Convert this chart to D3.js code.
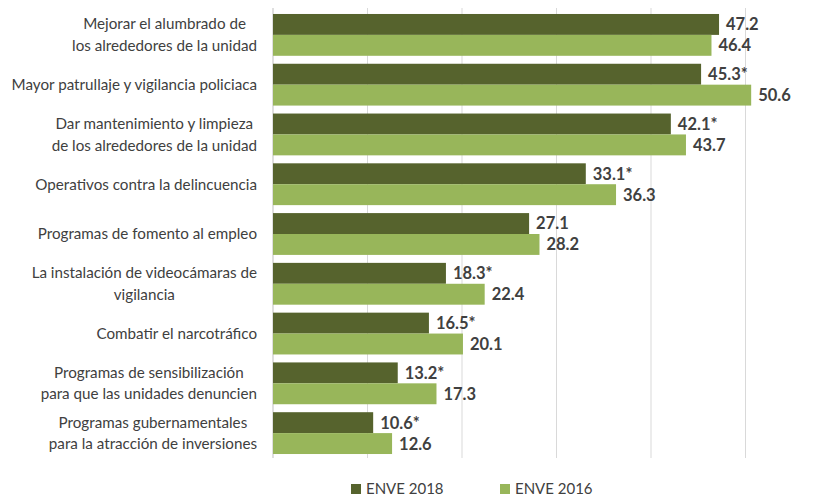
<!DOCTYPE html>
<html>
<head>
<meta charset="utf-8">
<script src="https://cdn.jsdelivr.net/npm/d3@7"></script>
<style>
  body { margin: 0; background: #fff; }
  text { font-family: Lato, "Noto Sans", sans-serif; fill: #404040; }
</style>
</head>
<body>
<div id="chart"></div>
<script>
const categories = [
  ["Mejorar el alumbrado de", "los alrededores de la unidad"],
  ["Mayor patrullaje y vigilancia policiaca"],
  ["Dar mantenimiento y limpieza", "de los alrededores de la unidad"],
  ["Operativos contra la delincuencia"],
  ["Programas de fomento al empleo"],
  ["La instalación de videocámaras de", "vigilancia"],
  ["Combatir el narcotráfico"],
  ["Programas de sensibilización", "para que las unidades denuncien"],
  ["Programas gubernamentales", "para la atracción de inversiones"]
]
const enve2018 = [47.2, 45.3, 42.1, 33.1, 27.1, 18.3, 16.5, 13.2, 10.6]
const enve2016 = [46.4, 50.6, 43.7, 36.3, 28.2, 22.4, 20.1, 17.3, 12.6]
const signif2018 = [false, true, true, true, false, true, true, true, true]
const seriesNames = ["ENVE 2018", "ENVE 2016"]
const ticks = [0, 10, 20, 30, 40, 50]

const width = 828, height = 497
const colors = ["#56632d", "#98b65a"]

let svg = d3.select("#chart").append("svg")
  .attr("width", width)
  .attr("height", height)

let x = d3.scaleLinear().domain([0, 50]).range([273, 745.5])
let y = d3.scaleBand()
  .domain(d3.range(categories.length))
  .range([10, 458])
  .paddingInner(0.16)
  .paddingOuter(0.08)
let sub = d3.scaleBand().domain([0, 1]).range([0, y.bandwidth()])

// vertical gridlines
svg.selectAll(".grid")
  .data(ticks)
  .enter()
  .append("line")
    .attr("x1", d => x(d)).attr("x2", d => x(d))
    .attr("y1", 8).attr("y2", 458)
    .attr("stroke", d => d === 0 ? "#bfbfbf" : "#d9d9d9")
    .attr("stroke-width", 1)

let rows = categories.map((c, i) => ({
  i: i,
  vals: [
    { v: enve2018[i], s: 0, label: enve2018[i].toFixed(1) + (signif2018[i] ? "*" : "") },
    { v: enve2016[i], s: 1, label: enve2016[i].toFixed(1) }
  ]
}))

let groups = svg.selectAll(".grp")
  .data(rows)
  .enter()
  .append("g")
    .attr("transform", d => "translate(0," + y(d.i) + ")")

groups.selectAll("rect")
  .data(d => d.vals)
  .enter()
  .append("rect")
    .attr("x", x(0))
    .attr("y", d => sub(d.s))
    .attr("width", d => x(d.v) - x(0))
    .attr("height", sub.bandwidth())
    .attr("fill", d => colors[d.s])

groups.selectAll(".val")
  .data(d => d.vals)
  .enter()
  .append("text")
    .attr("x", d => x(d.v) + 7)
    .attr("y", d => sub(d.s) + sub.bandwidth() / 2)
    .attr("dy", "0.36em")
    .style("font-size", "16.5px")
    .style("font-weight", "bold")
    .text(d => d.label)

// category labels: block right-aligned, lines centred inside the block
let lineH = 21.5
let labelRight = 257
groups.each(function(d) {
  let g = d3.select(this)
  let lines = categories[d.i]
  let cy = y.bandwidth() / 2
  let t = g.selectAll(".cat")
    .data(lines)
    .enter()
    .append("text")
      .attr("y", (l, k) => cy + (k - (lines.length - 1) / 2) * lineH)
      .attr("dy", "0.35em")
      .attr("text-anchor", "middle")
      .style("font-size", "15.2px")
      .text(l => l)
  let maxW = d3.max(t.nodes(), n => n.getComputedTextLength())
  t.attr("x", labelRight - maxW / 2)
})

// legend
let legend = svg.selectAll(".leg")
  .data(seriesNames)
  .enter()
  .append("g")
    .attr("transform", (d, i) => "translate(" + (351 + i * 149) + ",484)")

legend.append("rect")
  .attr("width", 10).attr("height", 10)
  .attr("fill", (d, i) => colors[i])

legend.append("text")
  .attr("x", 15)
  .attr("y", 5)
  .attr("dy", "0.36em")
  .style("font-size", "15px")
  .text(d => d)
</script>
</body>
</html>
